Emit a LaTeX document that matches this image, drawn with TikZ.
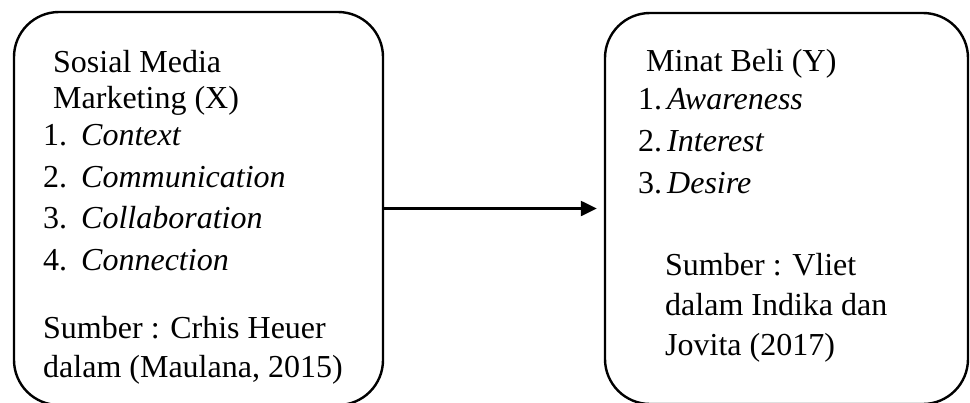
\documentclass[tikz,border=0pt]{standalone}
\usepackage{fontspec}
\setmainfont{Liberation Serif}
\usetikzlibrary{arrows.meta}

\begin{document}
\begin{tikzpicture}[x=1pt, y=-1pt, >={Triangle[length=16pt, width=15pt]},
			box/.style={draw, line width=2.4pt, rounded corners=45pt},
			txt/.style={anchor=base west, inner sep=0pt, font=\fontsize{32}{38}\selectfont}]
			\useasboundingbox (0,0) rectangle (970,402);
			\clip (0,0) rectangle (970,402);

			\node[box, minimum width=369pt, minimum height=393pt] (smm)   at (198.5,208.5) {};
			\node[box, minimum width=363pt, minimum height=391pt] (minat) at (786.5,208.5) {};

			%Variabel X
			\node[txt] (smmA) at (53,72)   {Sosial Media};
			\node[txt] (smmB) at (53,108)  {Marketing (X)};
			\node[txt] (smm1) at (43,145)  {\makebox[38pt][l]{1.}\textit{Context}};
			\node[txt] (smm2) at (43,187)  {\makebox[38pt][l]{2.}\textit{Communication}};
			\node[txt] (smm3) at (43,228)  {\makebox[38pt][l]{3.}\textit{Collaboration}};
			\node[txt] (smm4) at (43,270)  {\makebox[38pt][l]{4.}\textit{Connection}};
			\node[txt] (smmS) at (43,338)  {Sumber : Crhis Heuer};
			\node[txt] (smmT) at (43,377)  {dalam (Maulana, 2015)};

			%Variabel Y
			\node[txt] (minatA) at (646,71)  {Minat Beli (Y)};
			\node[txt] (minat1) at (638,109) {\makebox[29pt][l]{1.}\textit{Awareness}};
			\node[txt] (minat2) at (638,151) {\makebox[29pt][l]{2.}\textit{Interest}};
			\node[txt] (minat3) at (638,193) {\makebox[29pt][l]{3.}\textit{Desire}};
			\node[txt] (minatS) at (665,275) {Sumber : Vliet};
			\node[txt] (minatT) at (665,315) {dalam Indika dan};
			\node[txt] (minatU) at (665,355) {Jovita (2017)};

			\path[->, line width=2.4pt] (smm) edge [shorten >=7pt] (minat);
\end{tikzpicture}
\end{document}
